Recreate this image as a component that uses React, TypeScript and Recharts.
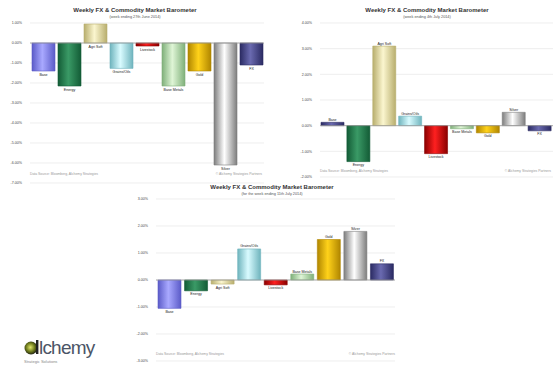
import React from 'react';
import { BarChart, Bar, XAxis, YAxis, CartesianGrid, ReferenceLine, Cell, LabelList } from 'recharts';

// Market groups shown on every barometer
const categories = ['Base', 'Energy', 'Agri Soft', 'Grains/Oils', 'Livestock', 'Base Metals', 'Gold', 'Silver', 'FX'];

// Weekly % moves, one array per panel
const weekA = [-1.4, -2.15, 0.95, -1.27, -0.15, -2.15, -1.4, -6.1, -1.1];
const weekB = [0.13, -1.4, 3.1, 0.37, -1.09, -0.12, -0.28, 0.52, -0.2];
const weekC = [-1.05, -0.4, -0.15, 1.15, -0.18, 0.22, 1.5, 1.8, 0.6];

const ticksA = [1, 0, -1, -2, -3, -4, -5, -6, -7];
const ticksB = [4, 3, 2, 1, 0, -1, -2];
const ticksC = [3, 2, 1, 0, -1, -2, -3];

const titleText = 'Weekly FX & Commodity Market Barometer';
const subtitles = ['(week ending 27th June 2014)', '(week ending 4th July 2014)', '(for the week ending 11th July 2014)'];

// [edge, centre] shades for the cylinder-like bar fill
const shadesDefault: [string, string][] = [
  ['#5b5bc8', '#a9a9ff'],
  ['#135c36', '#3a9a66'],
  ['#b8ae6e', '#fbf6cf'],
  ['#6fb4bd', '#d9fbff'],
  ['#8a0000', '#ff2020'],
  ['#7fb07a', '#dff5d6'],
  ['#b08600', '#ffd21a'],
  ['#7d7d7d', '#ffffff'],
  ['#2b2b63', '#6a6ab0'],
];
const shadesB: [string, string][] = [['#2b2b63', '#6a6ab0'], ...shadesDefault.slice(1)];

const pct = (v: number) => `${v.toFixed(2)}%`;

type PanelProps = {
  id: string;
  values: number[];
  ticks: number[];
  shades: [string, string][];
  width: number;
  height: number;
  margin: { top: number; right: number; bottom: number; left: number };
  axisWidth: number;
};

const Panel = ({ id, values, ticks, shades, width, height, margin, axisWidth }: PanelProps) => {
  const data = categories.map((name, i) => ({ name, value: values[i] }));

  // category name sits past the end of each bar; when a bar reaches the
  // top of the plot the name drops under the zero line instead
  const renderName = (props: any) => {
    const { x, y, width: w, height: h, index } = props;
    const top = Math.min(y, y + h);
    const bottom = Math.max(y, y + h);
    const neg = values[index] < 0;
    const tight = !neg && top - 4 < margin.top;
    return (
      <text
        x={x + w / 2}
        y={neg || tight ? bottom + 4.5 : top - 1.5}
        textAnchor="middle"
        fontSize={3.6}
        fill="#222"
        fontFamily="Arial, Liberation Sans, sans-serif"
      >
        {categories[index]}
      </text>
    );
  };

  return (
    <BarChart width={width} height={height} data={data} margin={margin}>
      <defs>
        {shades.map(([edge, mid], i) => (
          <linearGradient key={i} id={`${id}-g${i}`} x1="0" y1="0" x2="1" y2="0">
            <stop offset="0%" stopColor={edge} />
            <stop offset="45%" stopColor={mid} />
            <stop offset="100%" stopColor={edge} />
          </linearGradient>
        ))}
      </defs>
      <CartesianGrid vertical={false} stroke="#e2e2e2" strokeWidth={0.6} />
      <XAxis dataKey="name" hide />
      <YAxis
        width={axisWidth}
        domain={[ticks[ticks.length - 1], ticks[0]]}
        ticks={ticks}
        tickFormatter={pct}
        axisLine={false}
        tickLine={false}
        tick={{ fontSize: 3.6, fill: '#444', fontFamily: 'Arial, Liberation Sans, sans-serif' }}
        interval={0}
      />
      <ReferenceLine y={0} stroke="#9a9a9a" strokeWidth={0.8} />
      <Bar dataKey="value" barSize={23} isAnimationActive={false} strokeWidth={0.6}>
        {data.map((_, i) => (
          <Cell key={i} fill={`url(#${id}-g${i})`} stroke={shades[i][0]} />
        ))}
        <LabelList dataKey="name" content={renderName} />
      </Bar>
    </BarChart>
  );
};

const Heading = ({ cx, y, sub }: { cx: number; y: number; sub: string }) => (
  <g fontFamily="Arial, Liberation Sans, sans-serif" textAnchor="middle">
    <text x={cx} y={y} fontSize={6} fontWeight="bold" fill="#333">
      {titleText}
    </text>
    <text x={cx} y={y + 6} fontSize={3.8} fill="#555">
      {sub}
    </text>
  </g>
);

const Footer = ({ x1, x2, y }: { x1: number; x2: number; y: number }) => (
  <g fontFamily="Arial, Liberation Sans, sans-serif" fontSize={3.4} fill="#999">
    <text x={x1} y={y}>Data Source: Bloomberg, Alchemy Strategies</text>
    <text x={x2} y={y} textAnchor="end">© Alchemy Strategies Partners</text>
  </g>
);

export default function App() {
  return (
    <div style={{ position: 'absolute', left: 0, top: 0, width: 553, height: 366, background: '#fff', overflow: 'hidden' }}>
      <div style={{ position: 'absolute', left: 0, top: 0 }}>
        <Panel id="a" values={weekA} ticks={ticksA} shades={shadesDefault} width={275} height={185}
          margin={{ top: 23, right: 11, bottom: 2, left: 0 }} axisWidth={30} />
      </div>
      <div style={{ position: 'absolute', left: 280, top: 0 }}>
        <Panel id="b" values={weekB} ticks={ticksB} shades={shadesB} width={273} height={185}
          margin={{ top: 23, right: 0, bottom: 8, left: 0 }} axisWidth={40} />
      </div>
      <div style={{ position: 'absolute', left: 120, top: 180 }}>
        <Panel id="c" values={weekC} ticks={ticksC} shades={shadesDefault} width={285} height={186}
          margin={{ top: 19, right: 10, bottom: 5, left: 0 }} axisWidth={36} />
      </div>
      <svg style={{ position: 'absolute', left: 0, top: 0 }} width={553} height={366}>
        <Heading cx={135} y={12} sub={subtitles[0]} />
        <Heading cx={427} y={12} sub={subtitles[1]} />
        <Heading cx={272} y={189} sub={subtitles[2]} />
        <Footer x1={30} x2={262} y={175} />
        <Footer x1={320} x2={551} y={172} />
        <Footer x1={156} x2={395} y={355} />
        {/* company logo */}
        <defs>
          <radialGradient id="logo-dot" cx="0.45" cy="0.45" r="0.6">
            <stop offset="0%" stopColor="#e3e86a" />
            <stop offset="55%" stopColor="#6d7a1c" />
            <stop offset="100%" stopColor="#111" />
          </radialGradient>
        </defs>
        <circle cx={31} cy={348} r={6.5} fill="url(#logo-dot)" />
        <rect x={36} y={340} width={2.4} height={14} fill="#222" />
        <text x={39} y={354} fontSize={19} fontFamily="Liberation Sans, Arial, sans-serif" fill="#4b5566" letterSpacing={-0.8}>
          lchemy
        </text>
        <text x={24} y={363} fontSize={4} fontFamily="Arial, Liberation Sans, sans-serif" fill="#888">
          Strategic Solutions
        </text>
      </svg>
    </div>
  );
}
